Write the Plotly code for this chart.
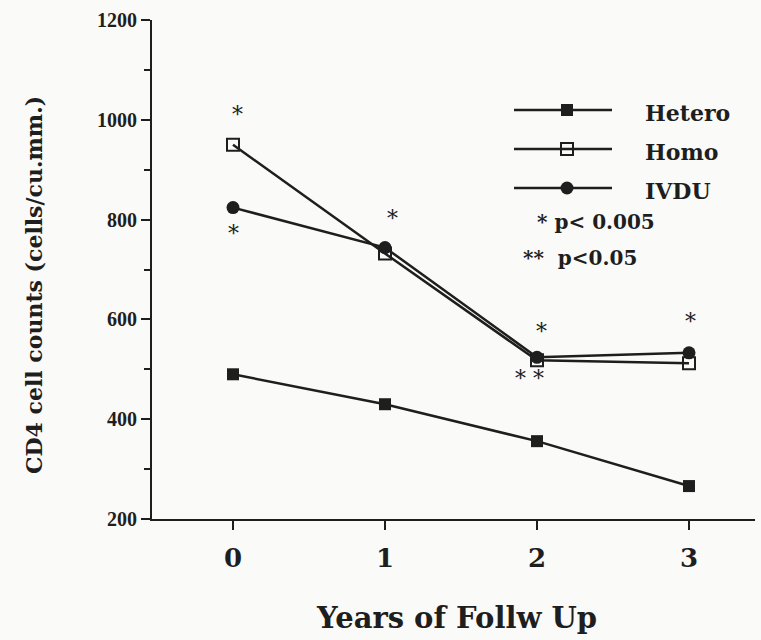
import plotly.graph_objects as go

years = [0, 1, 2, 3]
hetero = [490, 430, 356, 266]
homo = [950, 732, 518, 512]
ivdu = [824, 744, 524, 533]
y_ticks = [200, 400, 600, 800, 1000, 1200]
y_minor = [300, 500, 700, 900, 1100]
x_ticks = [0, 1, 2, 3]

FONT = "DejaVu Serif"
TICKFONT = "Liberation Serif"
INK = "#1e1e1e"
BG = "#fafaf8"
L, R, T, B = 152, 6, 20, 121
W, H = 761, 640

fig = go.Figure()

series = [
    ("Hetero", hetero, dict(symbol="square", size=12, color=INK)),
    ("Homo", homo, dict(symbol="square-open", size=12, color=INK, line=dict(width=2, color=INK))),
    ("IVDU", ivdu, dict(symbol="circle", size=13, color=INK)),
]
for name, vals, mk in series:
    fig.add_trace(go.Scatter(x=years, y=vals, name=name, mode="lines+markers",
                             line=dict(color=INK, width=2.5), marker=mk,
                             showlegend=False, xaxis="x", yaxis="y"))

# manual legend drawn on an overlay axis measured in page pixels
leg_lines = [110, 149, 188]
leg_text = [113, 152, 191]
for (name, vals, mk), yl, yt in zip(series, leg_lines, leg_text):
    fig.add_trace(go.Scatter(x=[514, 567, 612], y=[yl, yl, yl], mode="lines",
                             line=dict(color=INK, width=2.5), showlegend=False,
                             xaxis="x2", yaxis="y2", hoverinfo="skip"))
    fig.add_trace(go.Scatter(x=[567], y=[yl], mode="markers", marker=mk,
                             showlegend=False, xaxis="x2", yaxis="y2", hoverinfo="skip"))
    fig.add_annotation(x=643, y=yt, xref="x2", yref="y2", text=name, showarrow=False,
                       xanchor="left", yanchor="middle",
                       font=dict(family=FONT, size=22, weight="bold", color=INK))

fig.add_annotation(x=535, y=222, xref="x2", yref="y2", text="* p< 0.005", showarrow=False,
                   xanchor="left", yanchor="middle",
                   font=dict(family=FONT, size=20, weight="bold", color=INK))
fig.add_annotation(x=521, y=258, xref="x2", yref="y2", text="**  p<0.05", showarrow=False,
                   xanchor="left", yanchor="middle",
                   font=dict(family=FONT, size=20, weight="bold", color=INK))

# significance asterisks
stars = [(0.03, 1010, "*"), (0.0, 772, "*"), (1.05, 803, "*"),
         (2.03, 576, "*"), (1.95, 481, "* *"), (3.01, 596, "*")]
for sx, sy, st in stars:
    fig.add_annotation(x=sx, y=sy, xref="x", yref="y", text=st, showarrow=False,
                       font=dict(family=FONT, size=22, color=INK))

# axis titles
fig.add_annotation(x=(456 - L) / (W - L - R), y=(H - B - 618) / (H - B - T),
                   xref="paper", yref="paper", text="Years of Follw Up", showarrow=False,
                   xanchor="center", yanchor="middle",
                   font=dict(family=FONT, size=29, weight="bold", color=INK))
fig.add_annotation(x=(34 - L) / (W - L - R), y=(H - B - 285) / (H - B - T),
                   xref="paper", yref="paper", text="CD4 cell counts (cells/cu.mm.)",
                   showarrow=False, textangle=-90, xanchor="center", yanchor="middle",
                   font=dict(family=FONT, size=22, weight="bold", color=INK))

fig.update_layout(
    width=W, height=H,
    margin=dict(l=L, r=R, t=T, b=B),
    paper_bgcolor=BG, plot_bgcolor=BG,
    showlegend=False,
    xaxis=dict(range=[(152 - 233) / 152, (755 - 233) / 152], tickvals=x_ticks,
               showgrid=False, zeroline=False, showline=True, linecolor=INK, linewidth=2,
               ticks="outside", ticklen=9, tickwidth=2, tickcolor=INK,
               ticklabelstandoff=6,
               tickfont=dict(family=FONT, size=26, weight="bold", color=INK)),
    yaxis=dict(range=[200, 1200], tickvals=y_ticks,
               showgrid=False, zeroline=False, showline=True, linecolor=INK, linewidth=2,
               ticks="outside", ticklen=9, tickwidth=2, tickcolor=INK,
               minor=dict(tickvals=y_minor, ticks="outside",
                          ticklen=6, tickwidth=2, tickcolor=INK, showgrid=False),
               tickfont=dict(family=TICKFONT, size=20, weight="bold", color=INK)),
    xaxis2=dict(range=[L, W - R], overlaying="x", visible=False, anchor="y2"),
    yaxis2=dict(range=[H - B, T], overlaying="y", visible=False, anchor="x2"),
)

fig.write_html("out.html", config={"displayModeBar": False},
               post_script="document.body.style.margin='0';document.body.style.background='%s';" % BG)
